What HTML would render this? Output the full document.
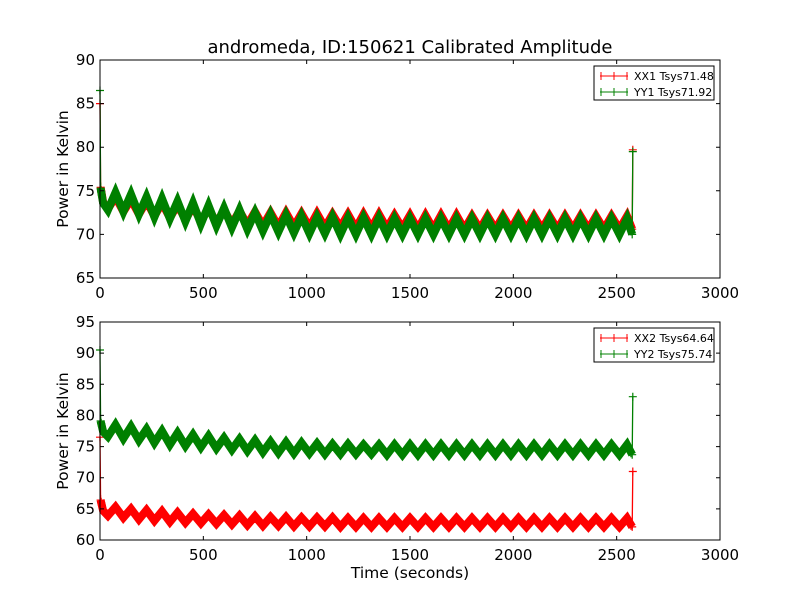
<!DOCTYPE html>
<html><head><meta charset="utf-8"><style>
html,body{margin:0;padding:0;background:#fff;}
svg{display:block;font-family:"DejaVu Sans","Liberation Sans",sans-serif;}
</style></head><body>
<svg id="chart" width="800" height="600" viewBox="0 0 800 600">
<rect width="800" height="600" fill="#fff"/>
<text x="410" y="53" font-size="18" text-anchor="middle">andromeda, ID:150621 Calibrated Amplitude</text>
<g id="p1"></g>
<g id="p2"></g>
<text x="410" y="578" font-size="15.5" text-anchor="middle">Time (seconds)</text>
</svg>
<script>
const peakTimes=[75,150,225,300,375,450,525,600,675,750,825,900,975,1050,1125,1200,1275,1350,1425,1500,1575,1650,1725,1800,1875,1950,2025,2100,2175,2250,2325,2400,2475,2550];
const xx1Peaks=[74.3,74.0,73.8,73.6,73.4,73.2,73.0,72.8,72.7,72.6,72.5,72.5,72.4,72.4,72.3,72.3,72.3,72.3,72.2,72.2,72.2,72.2,72.2,72.1,72.1,72.1,72.1,72.1,72.1,72.1,72.1,72.1,72.1,72.1];
const xx1Troughs=[72.9,72.6,72.3,72.1,71.9,71.7,71.5,71.3,71.2,71.1,71.0,70.9,70.9,70.8,70.8,70.8,70.7,70.7,70.7,70.7,70.6,70.6,70.6,70.6,70.6,70.6,70.6,70.6,70.6,70.6,70.6,70.6,70.6,70.6];
const yy1Peaks=[74.8,74.6,74.3,74.1,73.8,73.6,73.3,73.0,72.8,72.5,72.3,72.2,72.1,72.0,72.0,71.9,71.9,71.9,71.8,71.8,71.8,71.8,71.8,71.8,71.8,71.8,71.8,71.8,71.8,71.8,71.8,71.8,71.8,71.8];
const yy1Troughs=[72.8,72.6,72.3,72.0,71.8,71.5,71.2,71.0,70.8,70.6,70.4,70.3,70.2,70.1,70.1,70.0,70.0,70.0,70.0,70.0,70.0,70.0,70.0,70.0,70.0,70.0,70.0,70.0,70.0,70.0,70.0,70.0,70.0,70.0];
const xx2Peaks=[65.3,65.0,64.8,64.6,64.4,64.2,64.1,64.0,63.9,63.8,63.7,63.7,63.6,63.6,63.6,63.5,63.5,63.5,63.5,63.5,63.5,63.5,63.5,63.5,63.5,63.5,63.5,63.5,63.5,63.5,63.5,63.5,63.5,63.5];
const xx2Troughs=[63.9,63.6,63.3,63.1,62.9,62.8,62.7,62.6,62.5,62.4,62.3,62.3,62.2,62.2,62.2,62.1,62.1,62.1,62.1,62.1,62.1,62.1,62.1,62.1,62.1,62.1,62.1,62.1,62.1,62.1,62.1,62.1,62.1,62.1];
const yy2Peaks=[78.5,78.2,77.8,77.5,77.2,76.9,76.7,76.4,76.2,76.0,75.8,75.7,75.6,75.5,75.4,75.4,75.3,75.3,75.3,75.3,75.3,75.3,75.3,75.3,75.3,75.3,75.3,75.3,75.3,75.3,75.3,75.3,75.3,75.3];
const yy2Troughs=[76.6,76.3,76.0,75.6,75.3,75.1,74.9,74.7,74.5,74.3,74.1,74.0,73.9,73.9,73.8,73.8,73.8,73.8,73.7,73.7,73.7,73.7,73.7,73.7,73.7,73.7,73.7,73.7,73.7,73.7,73.7,73.7,73.7,73.7];
const startVals1=[85.0,86.5];
const startVals2=[76.5,90.5];
const endVals1=[79.7,79.5];
const endVals2=[71.0,83.0];
const endTime=2578;
const xTicks=[0,500,1000,1500,2000,2500,3000];
const yTicks1=[65,70,75,80,85,90];
const yTicks2=[60,65,70,75,80,85,90,95];
const legend1=["XX1 Tsys71.48","YY1 Tsys71.92"];
const legend2=["XX2 Tsys64.64","YY2 Tsys75.74"];

const NS="http://www.w3.org/2000/svg";
function mk(tag,attrs,parent){const e=document.createElementNS(NS,tag);for(const k in attrs)e.setAttribute(k,attrs[k]);parent.appendChild(e);return e;}

function panel(g,top,yMin,yMax,yTicks,series,legend,name){
  const L=100,R=720,T=top,B=top+218;
  const sx=v=>L+(v-0)/(3000-0)*(R-L);
  const sy=v=>B-(v-yMin)/(yMax-yMin)*(B-T);
  const colors=["#ff0000","#008000"];
  series.forEach((s,i)=>{
    const pts=[[0,s.start],[3,s.troughs[0]+2.5],[15,s.troughs[0]+0.8]];
    peakTimes.forEach((t,j)=>{pts.push([t-37,s.troughs[j]]);pts.push([t,s.peaks[j]]);});
    pts.push([endTime-3,s.troughs[s.troughs.length-1]]);
    pts.push([endTime,s.end]);
    const sg=mk("g",{},g);
    
    
    const d=pts.map((p,k)=>(k?"L":"M")+sx(p[0]).toFixed(1)+","+sy(p[1]).toFixed(1)).join("");
    mk("path",{d:d,fill:"none",stroke:colors[i],"stroke-width":1.3},sg);
    mk("path",{d:"M"+pts.slice(1,-1).map(p=>sx(p[0]).toFixed(1)+","+sy(p[1]).toFixed(1)).join("L"),fill:"none",stroke:colors[i],"stroke-width":8,"stroke-linejoin":"miter","stroke-miterlimit":3},sg);
    let md="";
    for(let k=1;k<pts.length-2;k++){
      const a=pts[k],b=pts[k+1];
      for(let f=0;f<1;f+=0.25){
        const x=sx(a[0]+(b[0]-a[0])*f),y=sy(a[1]+(b[1]-a[1])*f);
        md+=`M${(x-4).toFixed(1)},${y.toFixed(1)}h8M${x.toFixed(1)},${(y-5).toFixed(1)}v10`;
      }
    }
    [pts[0],pts[pts.length-2],pts[pts.length-1]].forEach(p=>{const x=sx(p[0]),y=sy(p[1]);md+=`M${(x-4).toFixed(1)},${y.toFixed(1)}h8M${x.toFixed(1)},${(y-4).toFixed(1)}v8`;});
    mk("path",{d:md,stroke:colors[i],"stroke-width":1.2,fill:"none"},sg);
  });
  const frame=mk("rect",{x:L,y:T,width:R-L,height:B-T,fill:"none",stroke:"#000","stroke-width":1},g);
  
  
  xTicks.forEach(v=>{
    const x=sx(v);
    mk("path",{d:`M${x},${B}v-4M${x},${T}v4`,stroke:"#000"},g);
    const t=mk("text",{x:x,y:B+20,"font-size":15,"text-anchor":"middle"},g);t.textContent=v;
    
    
  });
  yTicks.forEach(v=>{
    const y=sy(v);
    mk("path",{d:`M${L},${y}h4M${R},${y}h-4`,stroke:"#000"},g);
    const t=mk("text",{x:L-5,y:y+5,"font-size":15,"text-anchor":"end"},g);t.textContent=v;
    
    
  });
  const yl=mk("text",{x:0,y:0,"font-size":15.5,"text-anchor":"middle",transform:`translate(68,${(T+B)/2}) rotate(-90)`},g);
  yl.textContent="Power in Kelvin";
  
  
  const lg=mk("g",{},g);
  
  
  mk("rect",{x:594,y:T+6,width:120,height:34,fill:"#fff",stroke:"#000","stroke-width":1},lg);
  legend.forEach((txt,i)=>{
    const y=T+16+i*16;
    const e=mk("g",{},lg);
    
    
    mk("path",{d:`M600,${y}h28M614,${y-4}v8M601,${y-4}v8M627,${y-4}v8`,stroke:colors[i],"stroke-width":1},e);
    const t=mk("text",{x:634,y:y+4,"font-size":11},e);t.textContent=txt;
  });
}
panel(document.getElementById("p1"),60,65,90,yTicks1,[
  {peaks:xx1Peaks,troughs:xx1Troughs,start:startVals1[0],end:endVals1[0]},
  {peaks:yy1Peaks,troughs:yy1Troughs,start:startVals1[1],end:endVals1[1]}],legend1,"top");
panel(document.getElementById("p2"),322,60,95,yTicks2,[
  {peaks:xx2Peaks,troughs:xx2Troughs,start:startVals2[0],end:endVals2[0]},
  {peaks:yy2Peaks,troughs:yy2Troughs,start:startVals2[1],end:endVals2[1]}],legend2,"bottom");
</script>
</body></html>
